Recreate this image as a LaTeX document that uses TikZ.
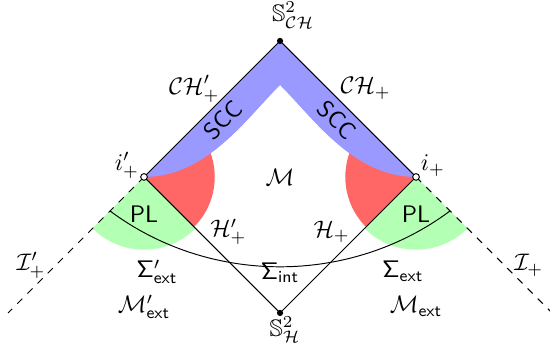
\documentclass[tikz,border=0pt]{standalone}
\usepackage{amsmath,amssymb}
\usepackage{tikz}
\usepackage{xcolor}
\usetikzlibrary{positioning,calc}
\definecolor{sccblue}{RGB}{153,153,255}
\definecolor{wedgered}{RGB}{255,102,102}
\definecolor{plgreen}{RGB}{179,255,179}
\tikzset{
  dotpt/.style={circle, fill=black, inner sep=0pt, minimum size=2.6pt},
  opendot/.style={circle, draw=black, fill=white, inner sep=0pt, minimum size=2.8pt, line width=0.4pt},
  edge/.style={thin, black},
  scri/.style={thin, black, dashed},
  lbl/.style={inner sep=0pt},
  sflbl/.style={font=\sffamily, inner sep=0pt}
}
\begin{document}
\begin{tikzpicture}[scale=2]
  \useasboundingbox (-2.059,-1.243) rectangle (1.985,1.301);
  % corners of the diagram
  \coordinate (top) at (0,1);
  \coordinate (bot) at (0,-1);
  \coordinate (ipl) at (-1,0);
  \coordinate (ip) at (1,0);
  \coordinate (peak) at (0,0.676);
  \coordinate (scril) at (-2,-1);
  \coordinate (scrir) at (2,-1);
  \coordinate (sigl) at (-1.25,-0.25);
  \coordinate (sigr) at (1.25,-0.25);
  % regions
  \fill[plgreen] (ipl) -- ++(-135:0.535) arc[start angle=-135, end angle=-45, radius=0.535] -- cycle;
  \fill[plgreen] (ip) -- ++(-135:0.535) arc[start angle=-135, end angle=-45, radius=0.535] -- cycle;
  \fill[wedgered] (ipl) -- ++(-45:0.52) arc[start angle=-45, end angle=45, radius=0.52] -- cycle;
  \fill[wedgered] (ip) -- ++(135:0.52) arc[start angle=135, end angle=225, radius=0.52] -- cycle;
  \fill[sccblue] (ipl) -- (top) -- (ip) .. controls (0.54,0) and (0.248,0.428) .. (peak)
    .. controls (-0.248,0.428) and (-0.54,0) .. (ipl) -- cycle;
  % lines
  \draw[edge] (ipl) -- node[sflbl, sloped, below=2.6pt] (sccl) {SCC} (top)
    -- node[sflbl, sloped, below=2.6pt] (sccr) {SCC} (ip);
  \draw[edge] (ipl) -- (bot) -- (ip);
  \draw[scri] (ipl) -- (scril);
  \draw[scri] (ip) -- (scrir);
  \draw[edge] (sigl) to[out=-36.7, in=216.7, looseness=0.94] (sigr);
  % points
  \node[dotpt] (topdot) at (top) {};
  \node[dotpt] (botdot) at (bot) {};
  \node[opendot] (ipldot) at (ipl) {};
  \node[opendot] (ipdot) at (ip) {};
  % labels
  \node[lbl] (schlbl) at (0.096,1.19) {$\mathbb{S}^2_{\mathcal{CH}}$};
  \node[lbl] (shlbl) at (0.037,-1.125) {$\mathbb{S}^2_{\mathcal{H}}$};
  \node[lbl] (chl) at (-0.63,0.65) {$\mathcal{CH}'_+$};
  \node[lbl] (chr) at (0.63,0.65) {$\mathcal{CH}_+$};
  \node[lbl] (ipllbl) at (-1.125,0.085) {$i'_+$};
  \node[lbl] (iplbl) at (1.125,0.085) {$i_+$};
  \node[lbl] (mlbl) at (0,0) {$\mathcal{M}$};
  \node[sflbl] (pll) at (-1,-0.276) {PL};
  \node[sflbl] (plr) at (1,-0.276) {PL};
  \node[lbl] (hl) at (-0.38,-0.404) {$\mathcal{H}'_+$};
  \node[lbl] (hr) at (0.38,-0.404) {$\mathcal{H}_+$};
  \node[lbl] (scrill) at (-1.83,-0.65) {$\mathcal{I}'_+$};
  \node[lbl] (scrirl) at (1.83,-0.65) {$\mathcal{I}_+$};
  \node[lbl, anchor=base] (sigextl) at (-0.904,-0.743) {$\mathsf{\Sigma}'_{\textsf{ext}}$};
  \node[lbl] (sigint) at (0,-0.706) {$\mathsf{\Sigma}_{\textsf{int}}$};
  \node[lbl, anchor=base] (sigextr) at (0.904,-0.743) {$\mathsf{\Sigma}_{\textsf{ext}}$};
  \node[lbl, anchor=base] (mextl) at (-1,-1) {$\mathcal{M}'_{\textsf{ext}}$};
  \node[lbl, anchor=base] (mextr) at (1,-1) {$\mathcal{M}_{\textsf{ext}}$};
\end{tikzpicture}
\end{document}
